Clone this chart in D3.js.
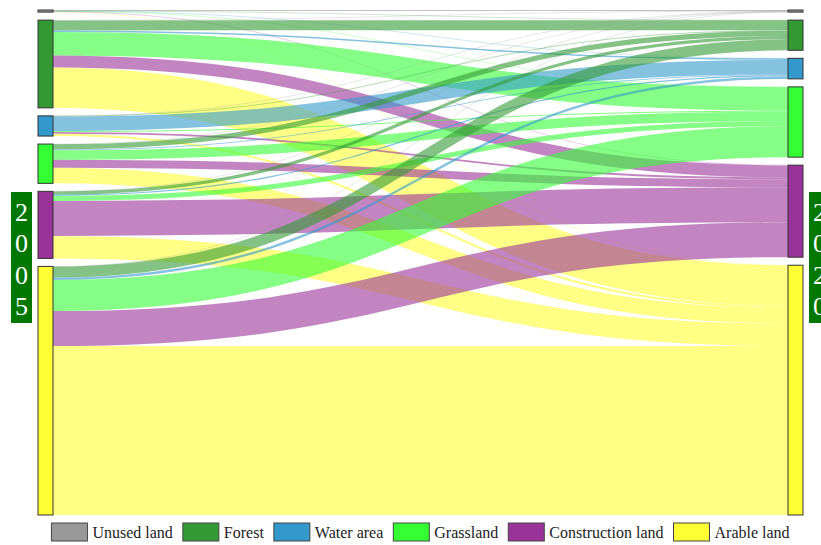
<!DOCTYPE html>
<html lang="en">
<head>
<meta charset="UTF-8">
<title>Land use transfer 2005-2020</title>
<style>
    body { margin: 0; background: #fff; }
    .node rect { stroke: #333; stroke-width: 1; }
    .link { fill: none; stroke-opacity: 0.6; }
    .legend text { font-family: "Liberation Serif", "DejaVu Serif", "Times New Roman", serif; font-size: 16px; fill: #222; }
    .year text { font-family: "Liberation Serif", "DejaVu Serif", "Times New Roman", serif; font-size: 26px; fill: #fff; }
</style>
</head>
<body>
<script src="https://cdnjs.cloudflare.com/ajax/libs/d3/7.8.5/d3.min.js"></script>
<script>

    var landTypes = ["Unused land", "Forest", "Water area", "Grassland", "Construction land", "Arable land"];
    var landColors = ["#999999", "#339933", "#3399cc", "#33ff33", "#993399", "#ffff33"];

    // area moved from each 2005 class into each 2020 class (same order as landTypes)
    var fromUnused       = [1.0, 0.2, 0.1, 0.3, 0.3, 0.2];
    var fromForest       = [0.3, 10.0, 1.5, 23.5, 12.0, 40.5];
    var fromWater        = [0.1, 0.6, 14.5, 1.0, 1.8, 2.2];
    var fromGrassland    = [0.3, 5.2, 0.8, 9.5, 8.0, 15.5];
    var fromConstruction = [0.2, 3.2, 1.2, 5.0, 35.0, 22.5];
    var fromArable       = [0.2, 11.0, 2.5, 31.0, 35.0, 169.0];

    var startYear = "2005", endYear = "2020";

    var transfer = [fromUnused, fromForest, fromWater, fromGrassland, fromConstruction, fromArable];

    var width = 821, height = 545;
    var nodeW = 15, xLeft = 38, xRight = 788, yTop = 10, yBottom = 515, pad = 8;

    var svg = d3.select("body").append("svg")
        .attr("width", width)
        .attr("height", height);

    var leftTotals = transfer.map(function(row) { return d3.sum(row); });
    var rightTotals = landTypes.map(function(t, j) { return d3.sum(transfer, function(row) { return row[j]; }); });
    var maxTotal = Math.max(d3.sum(leftTotals), d3.sum(rightTotals));

    var ky = d3.scaleLinear()
        .domain([0, maxTotal])
        .range([0, (yBottom - yTop) - pad * (landTypes.length - 1)]);

    function stackNodes(totals, x) {
        var y = yTop;
        return totals.map(function(v, i) {
            var n = {i: i, x0: x, x1: x + nodeW, y0: y, y1: y + ky(v), value: v};
            y = n.y1 + pad;
            return n;
        });
    }
    var leftNodes = stackNodes(leftTotals, xLeft);
    var rightNodes = stackNodes(rightTotals, xRight);

    /* build links: out-going sorted by target, in-coming sorted by source */
    var links = [];
    var outY = leftNodes.map(function(n) { return n.y0; });
    var inY = rightNodes.map(function(n) { return n.y0; });
    transfer.forEach(function(row, s) {
        row.forEach(function(v, t) {
            links.push({source: s, target: t, value: v, w: ky(v)});
        });
    });
    links.forEach(function(l) {
        l.sy = outY[l.source] + l.w / 2;
        outY[l.source] += l.w;
    });
    landTypes.forEach(function(t, j) {
        links.filter(function(l) { return l.target === j; }).forEach(function(l) {
            l.ty = inY[j] + l.w / 2;
            inY[j] += l.w;
        });
    });

    var linkPath = d3.linkHorizontal();

    svg.append("g")
        .selectAll("path")
        .data(links)
        .enter().append("path")
        .attr("class", "link")
        .attr("d", function(d) {
            return linkPath({source: [xLeft + nodeW, d.sy], target: [xRight, d.ty]});
        })
        .attr("stroke", function(d) { return landColors[d.target]; })
        .attr("stroke-width", function(d) { return Math.max(0.4, d.w); });

    var nodes = svg.append("g").attr("class", "node");
    nodes.selectAll("rect")
        .data(leftNodes.concat(rightNodes))
        .enter().append("rect")
        .attr("x", function(d) { return d.x0; })
        .attr("y", function(d) { return d.y0; })
        .attr("width", nodeW)
        .attr("height", function(d) { return Math.max(1, d.y1 - d.y0); })
        .attr("fill", function(d) { return landColors[d.i]; });

    /* year boxes, the right one runs off the edge like in the original */
    function yearBox(label, x) {
        var g = svg.append("g").attr("class", "year");
        g.append("rect")
            .attr("x", x).attr("y", 192)
            .attr("width", 21).attr("height", 131)
            .attr("fill", "#007800");
        g.selectAll("text")
            .data(label.split(""))
            .enter().append("text")
            .attr("x", x + 10.5)
            .attr("y", function(d, i) { return 212 + i * 31.5; })
            .attr("text-anchor", "middle")
            .attr("dominant-baseline", "central")
            .text(function(d) { return d; });
    }
    yearBox(startYear, 11);
    yearBox(endYear, 809);

    /* legend */
    var legend = svg.append("g").attr("class", "legend");
    var lx = 0;
    landTypes.forEach(function(t, i) {
        var item = legend.append("g").attr("transform", "translate(" + lx + ",0)");
        item.append("rect")
            .attr("x", 0).attr("y", 523)
            .attr("width", 36).attr("height", 18)
            .attr("fill", landColors[i])
            .attr("stroke", "#444");
        var txt = item.append("text")
            .attr("x", 41).attr("y", 537.5)
            .text(t);
        lx += 41 + txt.node().getComputedTextLength() + 10;
    });
    var legendW = lx - 10;
    legend.attr("transform", "translate(" + (420.5 - legendW / 2) + ",0)");

</script>
</body>
</html>
